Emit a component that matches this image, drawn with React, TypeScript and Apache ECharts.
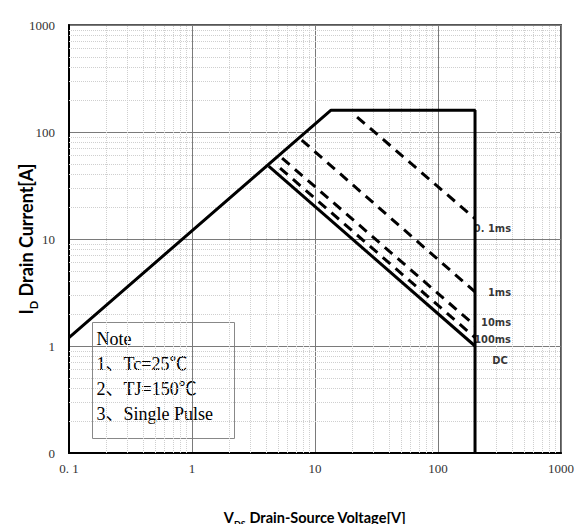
import React, { useEffect, useRef } from "react";
import * as echarts from "echarts";

// Safe operating area data (VDS [V], ID [A])
const boundary: [number, number][] = [[0.1, 1.2], [13.5, 160], [200, 160], [200, 0.1]];
const dcLine: [number, number][] = [[4.2, 48], [200, 1.0]];
const ms100Line: [number, number][] = [[5.2, 46], [200, 1.2]];
const ms10Line: [number, number][] = [[5.4, 57], [200, 1.55]];
const ms1Line: [number, number][] = [[7.8, 84], [200, 3.2]];
const ms01Line: [number, number][] = [[22, 138], [200, 15.5]];

const curveLabels = ["0. 1ms", "1ms", "10ms", "100ms", "DC"];
const xTickLabels: Record<string, string> = { "0.1": "0. 1", "1": "1", "10": "10", "100": "100", "1000": "1000" };
const yTickLabels: Record<string, string> = { "0.1": "0", "1": "1", "10": "10", "100": "100", "1000": "1000" };
const noteLines = ["Note", "1、Tc=25℃", "2、TJ=150℃", "3、Single Pulse"];

const minorValues: number[] = [];
[0.1, 1, 10, 100].forEach((d) => {
  for (let k = 2; k <= 9; k++) minorValues.push(+(d * k).toPrecision(3));
});

const keyOf = (v: number) => String(+v.toPrecision(3));

export default function App() {
  const ref = useRef<HTMLDivElement>(null);
  useEffect(() => {
    if (!ref.current) return;
    const chart = echarts.init(ref.current, null, { renderer: "svg" });
    const labelFont = "'DejaVu Sans Condensed', 'Liberation Sans Narrow', 'Liberation Sans', sans-serif";
    const ends = [ms01Line, ms1Line, ms10Line, ms100Line, dcLine];
    const labelDy = [10, 1, -3, 1.5, 14];
    const solid = { color: "#000", width: 3 };
    const dashed = { color: "#000", width: 3, type: [10, 7] as any };
    const titleRich = (size: number, sub: number) => ({
      v: { fontFamily: "Lato", fontWeight: "bold", fontSize: size, color: "#000", verticalAlign: "top", padding: [0, 0, 4, 0] },
      s: { fontFamily: "Lato", fontWeight: "bold", fontSize: sub, color: "#000", verticalAlign: "bottom" },
      t: { fontFamily: "Lato", fontWeight: "bold", fontSize: size, color: "#000", verticalAlign: "top", padding: [0, 0, 4, 0] },
    });
    chart.setOption({
      animation: false,
      grid: {
        left: 69, right: 26, top: 25, bottom: 79,
        outerBoundsMode: "none", containLabel: false,
        show: true, borderColor: "#555", borderWidth: 2, backgroundColor: "#fff",
      },
      xAxis: {
        type: "log", logBase: 10, min: 0.1, max: 1000,
        axisLine: { show: true, lineStyle: { color: "#000", width: 2 } },
        axisTick: { show: false },
        axisLabel: {
          color: "#333", fontFamily: "'Liberation Serif', serif", fontSize: 13, margin: 9,
          formatter: (v: number) => xTickLabels[keyOf(v)] ?? String(v),
        },
        splitLine: { show: true, lineStyle: { color: "#7a7a7a", width: 1 } },
        name: "{v|V}{s|DS}{t| Drain-Source Voltage[V]}",
        nameLocation: "middle", nameGap: 57, nameMoveOverlap: false,
        nameTextStyle: { rich: titleRich(14.5, 9) },
      },
      yAxis: {
        type: "log", logBase: 10, min: 0.1, max: 1000,
        axisLine: { show: true, lineStyle: { color: "#000", width: 2 } },
        axisTick: { show: false },
        axisLabel: {
          color: "#333", fontFamily: "'Liberation Serif', serif", fontSize: 13, margin: 14,
          formatter: (v: number) => yTickLabels[keyOf(v)] ?? String(v),
        },
        splitLine: { show: true, lineStyle: { color: "#7a7a7a", width: 1 } },
        name: "{v|I}{s|D}{t| Drain Current[A]}",
        nameLocation: "middle", nameGap: 30, nameRotate: 90, nameMoveOverlap: false,
        nameTextStyle: { rich: titleRich(18, 11) },
      },
      series: [
        {
          type: "line", data: [[1, 1]], symbol: "none", lineStyle: { opacity: 0 }, silent: true, z: 1,
          markLine: {
            silent: true, symbol: "none", label: { show: false },
            lineStyle: { color: "#cfcfcf", type: "dotted", width: 1 },
            data: [
              ...minorValues.map((v) => ({ xAxis: v })),
              ...minorValues.map((v) => ({ yAxis: v })),
            ],
          },
        },
        { type: "line", data: boundary, symbol: "none", lineStyle: solid, z: 5 },
        { type: "line", data: dcLine, symbol: "none", lineStyle: solid, z: 5 },
        { type: "line", data: ms100Line, symbol: "none", lineStyle: dashed, z: 5 },
        { type: "line", data: ms10Line, symbol: "none", lineStyle: dashed, z: 5 },
        { type: "line", data: ms1Line, symbol: "none", lineStyle: dashed, z: 5 },
        { type: "line", data: ms01Line, symbol: "none", lineStyle: dashed, z: 5 },
        {
          type: "scatter", symbolSize: 1, itemStyle: { color: "rgba(0,0,0,0)" }, z: 10,
          data: ends.map((line, i) => ({
            value: line[line.length - 1],
            label: {
              show: true, formatter: curveLabels[i], position: "inside",
              align: i === 4 ? "center" : "right", verticalAlign: "middle",
              offset: [i === 4 ? 25 : 36, labelDy[i]],
              fontFamily: labelFont, fontWeight: "bold", fontSize: 11, color: "#000",
            },
          })),
        },
      ],
      graphic: [
        {
          type: "group", left: 92, top: 322, z: 100,
          children: [
            { type: "rect", shape: { x: 0, y: 0, width: 142, height: 116 }, style: { fill: "#fff", stroke: "#888", lineWidth: 1 } },
            ...noteLines.map((t, i) => ({
              type: "text", x: 4, y: 16 + i * 25,
              style: {
                text: t, fill: "#000", fontSize: 18,
                fontFamily: "'Liberation Serif', 'Noto Sans CJK SC', serif",
                verticalAlign: "middle", align: "left",
              },
            })),
          ],
        },
      ],
    });
    return () => chart.dispose();
  }, []);
  return <div ref={ref} style={{ width: 587, height: 532, margin: -8 }} />;
}
